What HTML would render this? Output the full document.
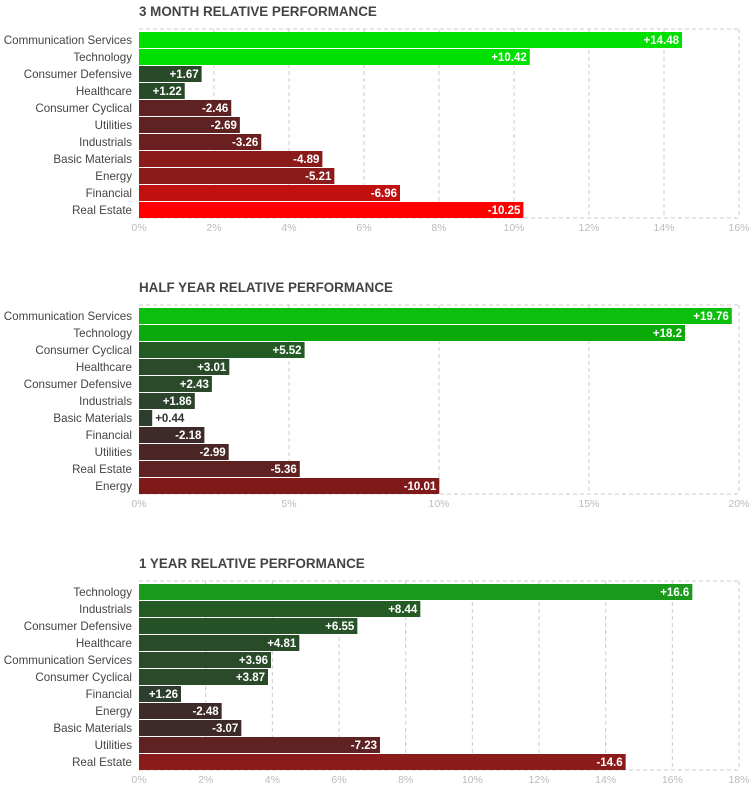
<!DOCTYPE html>
<html><head><meta charset="utf-8"><style>
body{margin:0;background:#fff;width:756px;height:790px;overflow:hidden;font-family:"Liberation Sans",sans-serif}
svg text{font-family:"Liberation Sans",sans-serif}
</style></head><body>
<svg id="root" width="756" height="790"></svg>
<script>
const titles=["3 MONTH RELATIVE PERFORMANCE","HALF YEAR RELATIVE PERFORMANCE","1 YEAR RELATIVE PERFORMANCE"];
const cats1=["Communication Services","Technology","Consumer Defensive","Healthcare","Consumer Cyclical","Utilities","Industrials","Basic Materials","Energy","Financial","Real Estate"];
const vals1=[14.48,10.42,1.67,1.22,-2.46,-2.69,-3.26,-4.89,-5.21,-6.96,-10.25];
const labels1=["+14.48","+10.42","+1.67","+1.22","-2.46","-2.69","-3.26","-4.89","-5.21","-6.96","-10.25"];
const ticks1=[0,2,4,6,8,10,12,14,16];
const cats2=["Communication Services","Technology","Consumer Cyclical","Healthcare","Consumer Defensive","Industrials","Basic Materials","Financial","Utilities","Real Estate","Energy"];
const vals2=[19.76,18.2,5.52,3.01,2.43,1.86,0.44,-2.18,-2.99,-5.36,-10.01];
const labels2=["+19.76","+18.2","+5.52","+3.01","+2.43","+1.86","+0.44","-2.18","-2.99","-5.36","-10.01"];
const ticks2=[0,5,10,15,20];
const cats3=["Technology","Industrials","Consumer Defensive","Healthcare","Communication Services","Consumer Cyclical","Financial","Energy","Basic Materials","Utilities","Real Estate"];
const vals3=[16.6,8.44,6.55,4.81,3.96,3.87,1.26,-2.48,-3.07,-7.23,-14.6];
const labels3=["+16.6","+8.44","+6.55","+4.81","+3.96","+3.87","+1.26","-2.48","-3.07","-7.23","-14.6"];
const ticks3=[0,2,4,6,8,10,12,14,16,18];
const colors1=["#00e000","#00e000","#294a29","#294a29","#5f2222","#5f2222","#6b1f1f","#8b1a1a","#8b1a1a","#c01010","#ff0000"];
const colors2=["#0cbf0c","#0aaa0a","#245a24","#2a4a2a","#2a4a2a","#2c442c","#2e3e2e","#3f2a2a","#4a2626","#5f2222","#7f1a1a"];
const colors3=["#1a9a1a","#245a24","#275227","#284c28","#2a4a2a","#2a4a2a","#2e3e2e","#3f2a2a","#3f2a2a","#5f2222","#8b1a1a"];
const charts=[[cats1,vals1,labels1,ticks1,colors1],[cats2,vals2,labels2,ticks2,colors2],[cats3,vals3,labels3,ticks3,colors3]];
const NS="http://www.w3.org/2000/svg",root=document.getElementById('root');
function mk(t,a,p){const e=document.createElementNS(NS,t);for(const k in a)e.setAttribute(k,a[k]);(p||root).appendChild(e);return e;}
const X0=139,X1=739;
charts.forEach((c,ci)=>{
  const [cats,vals,labs,ticks,cols]=c;
  const oy=ci*276;
  const max=ticks[ticks.length-1];
  const sx=v=>X0+Math.abs(v)/max*(X1-X0);
  const g=mk('g',{});
  
  
  const t=mk('text',{x:139,y:oy+16,'font-size':13.4,'font-weight':'bold',fill:'#444'},g);t.textContent=titles[ci];
  
  
  const top=oy+29,bot=oy+218;
  ticks.forEach((tk,i)=>{
    const x=sx(tk);
    if(i>0){const l=mk('line',{x1:x,x2:x,y1:top,y2:bot,stroke:'#ccc','stroke-dasharray':'4,3'},g);
      
      }
    const tl=mk('text',{x:x,y:bot+13,'font-size':10.5,fill:'#bbb','text-anchor':'middle'},g);tl.textContent=tk+'%';
    
    
  });
  mk('line',{x1:X0,x2:X1,y1:top,y2:top,stroke:'#ccc','stroke-dasharray':'4,3'},g);
  mk('line',{x1:X0,x2:X1,y1:bot,y2:bot,stroke:'#ccc','stroke-dasharray':'4,3'},g);
  cats.forEach((cat,i)=>{
    const y=oy+32+i*17,w=sx(vals[i])-X0;
    const cl=mk('text',{x:132,y:y+12,'font-size':11.6,fill:'#444','text-anchor':'end'},g);cl.textContent=cat;
    
    
    const r=mk('rect',{x:X0,y:y,width:w,height:16,fill:cols[i]},g);
    
    
    const inside=w>32;
    const vl=mk('text',{x:inside?X0+w-3:X0+w+3,y:y+12,'font-size':11.5,'font-weight':'bold',fill:inside?'#fff':'#333','text-anchor':inside?'end':'start'},g);vl.textContent=labs[i];
    
    
  });
});
</script>
</body></html>
